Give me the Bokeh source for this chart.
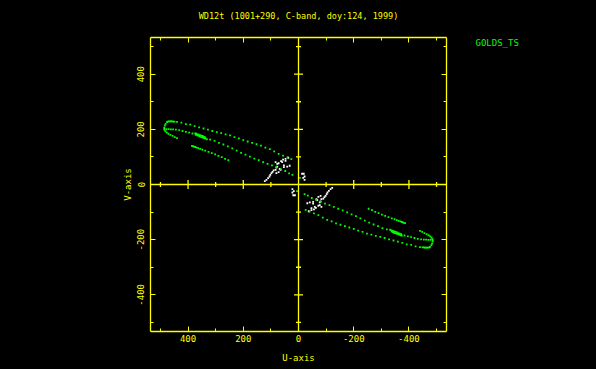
import math
from bokeh.plotting import figure
from bokeh.layouts import row
from bokeh.models import Range1d, FixedTicker, LinearAxis, Label, ColumnDataSource
from bokeh.embed import file_html
from bokeh.resources import INLINE

# ---------------- texts ----------------
title_text = "WD12t (1001+290, C-band, doy:124, 1999)"
x_label = "U-axis"
y_label = "V-axis"
legend_text = "GOLDS_TS"

# ---------------- ticks ----------------
major_ticks = [-400, -200, 0, 200, 400]
minor_ticks = [-500, -300, -100, 100, 300, 500]
tick_labels = ["-400", "-200", "0", "200", "400"]

# ---------------- data (one half; the other half is the conjugate -u,-v) ----------------
track_a_u = [474, 470, 466, 462, 458, 454, 449, 440, 424, 408, 392, 376, 360, 344, 328, 312, 296, 280,
             264, 248, 232, 216, 200, 184, 168, 152, 136, 120, 104, 88, 72, 56, 40, 26]
track_a_v = [228, 229, 229, 229, 229, 228, 228, 227, 224, 219, 217, 212, 207, 203, 199, 194, 190, 186,
             182, 178, 172, 167, 161, 156, 151, 146, 141, 134, 128, 120, 111, 105, 98, 92]

track_b_u = [486, 478, 470, 462, 454, 444, 432, 420, 408, 396, 384, 320, 304, 288, 272, 256, 240, 224,
             208, 192, 176, 160, 144, 128, 112, 96, 80, 64, 48, 34, 22]
track_b_v = [202, 201, 201, 200, 200, 199, 197, 194, 191, 188, 185, 163, 158, 151, 145, 138, 131, 123,
             115, 108, 101, 94, 88, 81, 75, 69, 63, 56, 49, 40, 35]

dense_u = [374, 370, 366, 362, 358, 354, 350, 346, 342, 338, 372, 367, 362, 357, 352, 347, 342, 337, 332]
dense_v = [185, 184, 182, 181, 179, 178, 176, 175, 173, 171, 180, 178, 176, 174, 172, 170, 168, 166, 164]

track_c_u = [386, 382, 378, 374, 369, 363, 356, 348, 338, 326, 314, 302, 290, 278, 266, 254]
track_c_v = [140, 139, 137, 136, 134, 132, 129, 126, 123, 118, 114, 109, 104, 99, 93, 88]

arc_u = [476, 481, 484, 486, 485, 482, 477, 471, 464, 456, 448, 440]
arc_v = [226, 220, 214, 206, 198, 193, 188, 184, 180, 176, 172, 168]

extra_green_u = [-5]
extra_green_v = [24]

white_u = [122, 116, 110, 105, 102, 98, 94, 90, 83, 80, 77, 83, 72, 63, 59, 56, 47, 47, 37, 53,
           41, 32, 72, 80, 65, 68, 77, 53, -13, -19, -22, -17, -22]
white_v = [12, 17, 23, 29, 35, 41, 46, 51, 53, 61, 75, 81, 77, 85, 81, 90, 86, 93, 97, 69,
           65, 68, 45, 41, 53, 57, 65, 63, 39, 39, 29, 24, 17]

# ---------------- styling ----------------
YELLOW = "#ffff00"
GREEN = "#00ff00"
WHITE = "#ffffff"
BLACK = "#000000"
FONT = "DejaVu Sans Mono"

green_u = track_a_u + track_b_u + dense_u + track_c_u + arc_u + extra_green_u
green_v = track_a_v + track_b_v + dense_v + track_c_v + arc_v + extra_green_v
green_src = ColumnDataSource(dict(u=green_u + [-x for x in green_u],
                                  v=green_v + [-y for y in green_v]))
white_src = ColumnDataSource(dict(u=white_u + [-x for x in white_u],
                                  v=white_v + [-y for y in white_v]))

p = figure(width=460, height=369, x_range=Range1d(536, -536), y_range=Range1d(-533, 533),
           output_backend="svg", toolbar_location=None,
           min_border_left=150, min_border_right=14, min_border_top=37, min_border_bottom=38)
p.background_fill_color = BLACK
p.border_fill_color = BLACK
p.outline_line_color = None
p.grid.visible = False

# title
p.title.text = title_text
p.title.align = "center"
p.title.text_color = YELLOW
p.title.text_font = FONT
p.title.text_font_size = "8.5px"
p.title.text_font_style = "normal"
p.title.standoff = 7

overrides = {t: s for t, s in zip(major_ticks, tick_labels)}

def style_axis(ax, show_labels):
    ax.ticker = FixedTicker(ticks=major_ticks, minor_ticks=minor_ticks)
    ax.axis_line_color = YELLOW
    ax.axis_line_width = 1.3
    ax.major_tick_line_color = YELLOW
    ax.minor_tick_line_color = YELLOW
    ax.major_tick_in = 5
    ax.major_tick_out = 0
    ax.minor_tick_in = 3
    ax.minor_tick_out = 0
    ax.major_label_overrides = overrides
    ax.major_label_text_font = FONT
    ax.major_label_text_color = YELLOW
    ax.axis_label_text_font = FONT
    ax.axis_label_text_color = YELLOW
    ax.axis_label_text_font_style = "normal"
    ax.axis_label_text_font_size = "9px"
    if show_labels:
        ax.major_label_text_font_size = "9px"
        ax.major_label_standoff = 3
    else:
        ax.major_label_text_font_size = "0px"
        ax.major_label_text_alpha = 0
        ax.major_label_standoff = 0

style_axis(p.xaxis[0], True)
style_axis(p.yaxis[0], True)
p.yaxis[0].major_label_orientation = "vertical"
p.yaxis[0].major_label_standoff = 6
p.xaxis[0].axis_label = x_label
p.xaxis[0].axis_label_standoff = 8
p.yaxis[0].axis_label = y_label
p.yaxis[0].axis_label_standoff = 2

top_ax = LinearAxis()
right_ax = LinearAxis()
style_axis(top_ax, False)
style_axis(right_ax, False)
# blank labels on the top axis only reserve room between the frame and the title
top_ax.major_label_overrides = {t: " " for t in major_ticks}
top_ax.major_label_text_font_size = "8.5px"
top_ax.major_label_text_alpha = 1.0
top_ax.major_label_text_color = BLACK
p.add_layout(top_ax, "above")
p.add_layout(right_ax, "right")

# zero lines through the origin
p.ray(x=[0, 0], y=[0, 0], length=0, angle=[0, math.pi], line_color=YELLOW, line_width=1.3)
p.ray(x=[0, 0], y=[0, 0], length=0, angle=[math.pi / 2, -math.pi / 2], line_color=YELLOW, line_width=1.3)

cross_major = [t for t in major_ticks if t != 0]
# tick marks crossing the zero lines
p.scatter(x=cross_major, y=[0] * len(cross_major), marker="dash", size=9, angle=math.pi / 2,
          line_color=YELLOW, line_width=1.3)
p.scatter(x=minor_ticks, y=[0] * len(minor_ticks), marker="dash", size=5, angle=math.pi / 2,
          line_color=YELLOW, line_width=1.3)
p.scatter(x=[0] * len(cross_major), y=cross_major, marker="dash", size=9,
          line_color=YELLOW, line_width=1.3)
p.scatter(x=[0] * len(minor_ticks), y=minor_ticks, marker="dash", size=5,
          line_color=YELLOW, line_width=1.3)

# visibility points
p.scatter("u", "v", source=white_src, marker="square", size=1.8, fill_color=WHITE, line_color=None)
p.scatter("u", "v", source=green_src, marker="square", size=1.8, fill_color=GREEN, line_color=None)

# side panel holding the source name (its frame is aligned with the main frame)
q = figure(width=136, height=369, x_range=Range1d(0, 1), y_range=Range1d(0, 1),
           output_backend="svg", toolbar_location=None,
           min_border_left=0, min_border_right=0, min_border_top=0, min_border_bottom=0,
           x_axis_location=None, y_axis_location=None)
q.background_fill_color = BLACK
q.border_fill_color = BLACK
q.outline_line_color = None
q.grid.visible = False
q.add_layout(Label(x=15, y=289, x_units="screen", y_units="screen", text=legend_text,
                   text_font=FONT, text_font_size="9px", text_color=GREEN,
                   text_align="left", text_baseline="middle"))

layout = row(p, q, spacing=0)

html = file_html(layout, INLINE)
html = html.replace("</head>", "<style>html, body { background-color: #000000; }</style></head>", 1)
open("out.html", "w").write(html)
